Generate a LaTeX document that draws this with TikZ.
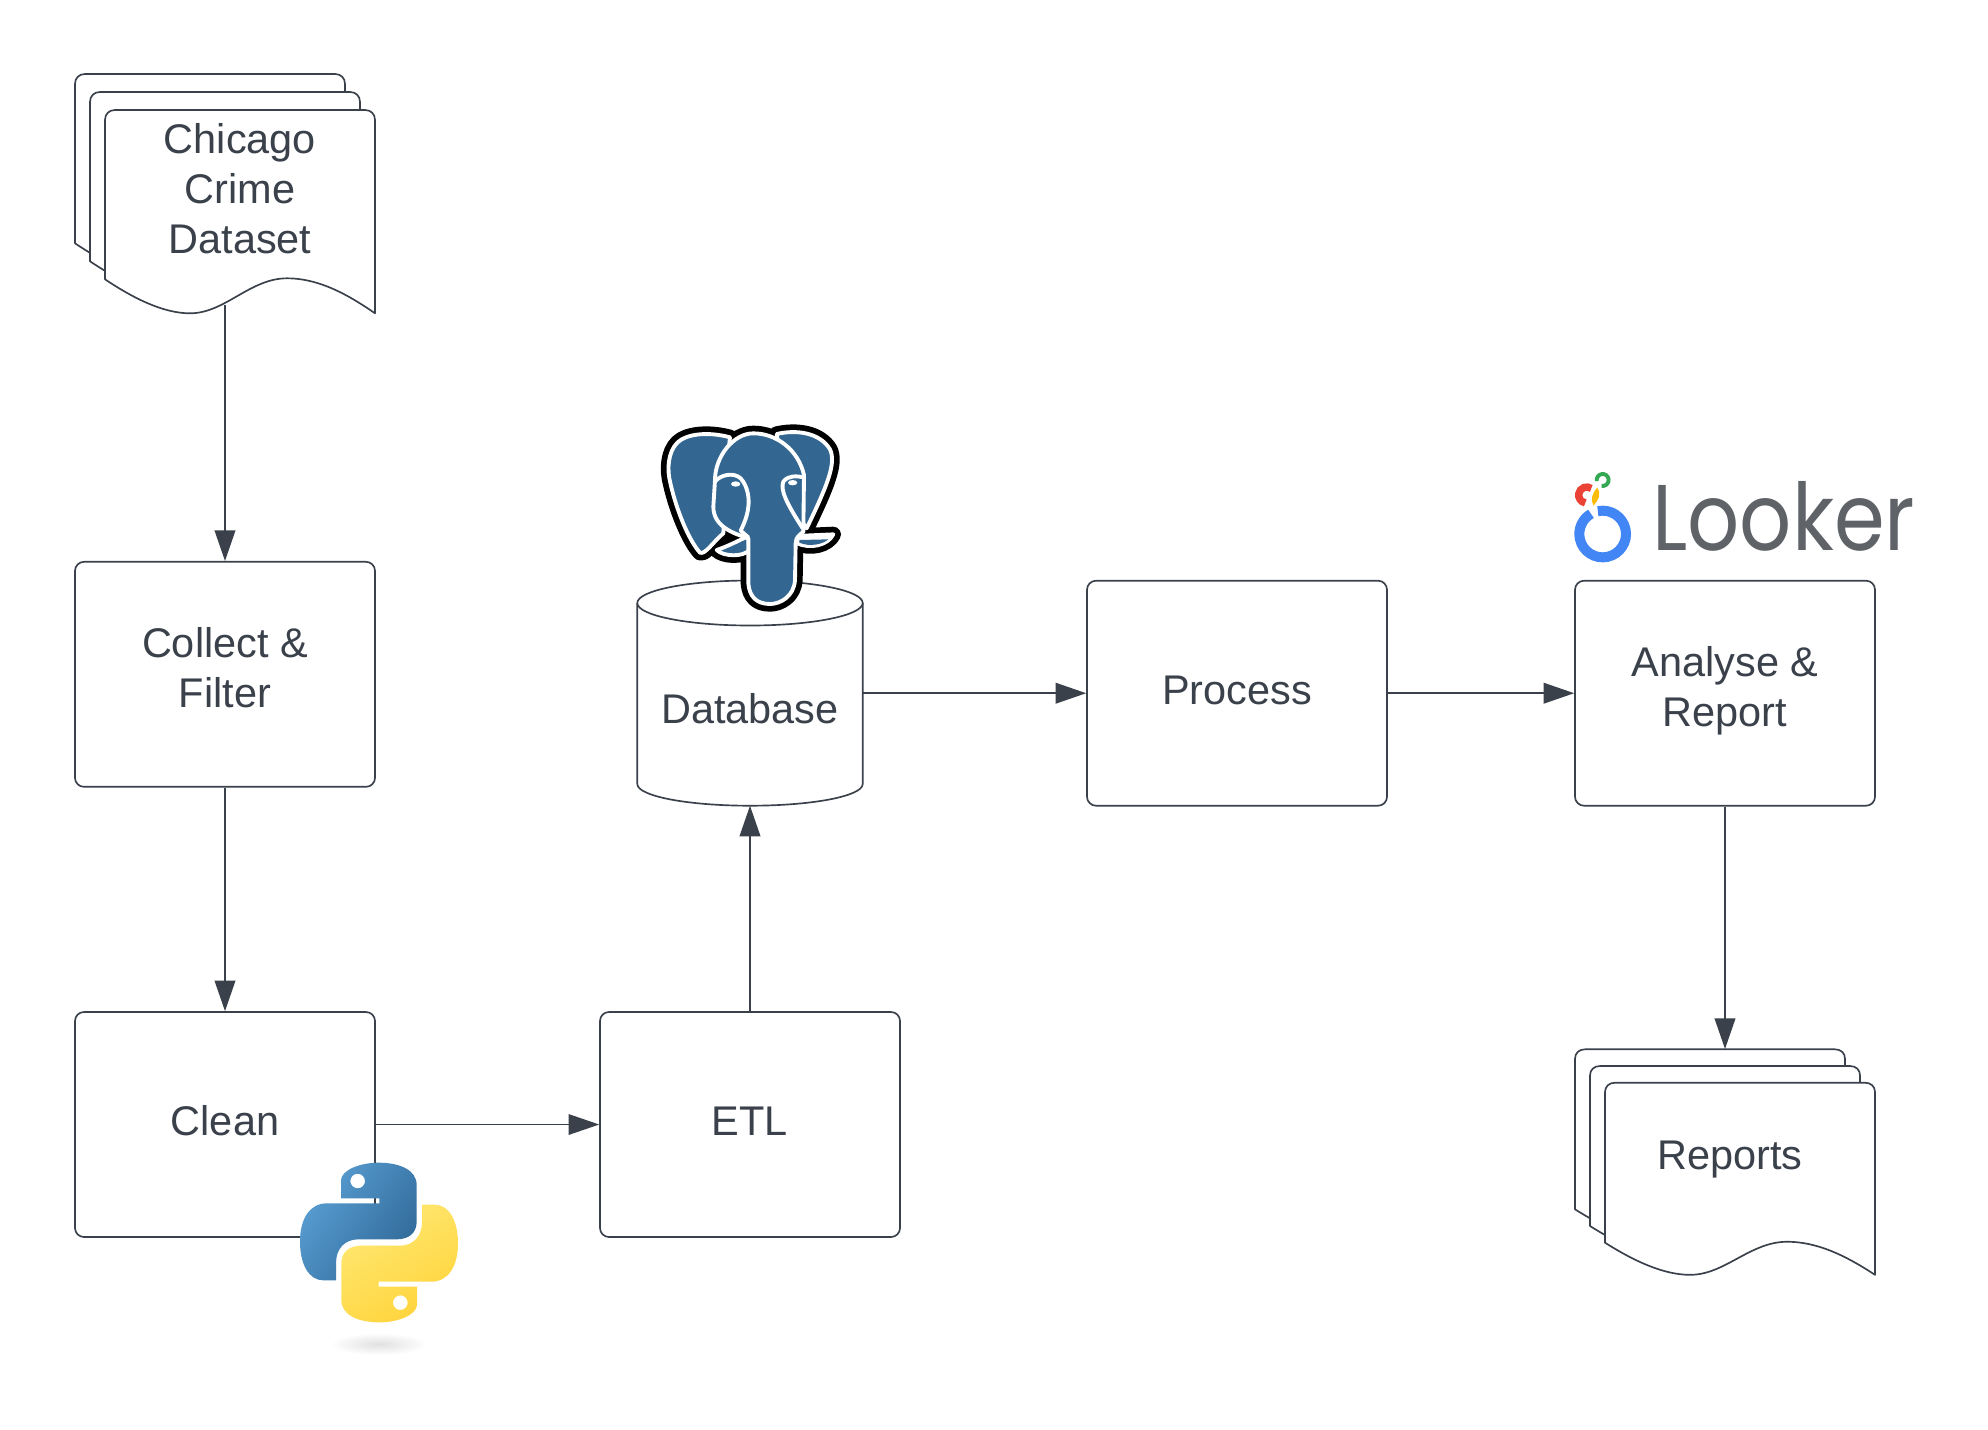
\documentclass[tikz,border=0pt]{standalone}
\usepackage{fontspec}
\setmainfont{Liberation Sans}
\newfontfamily\lookerfont{Poppins}
\usetikzlibrary{arrows.meta}
\definecolor{ink}{HTML}{3A414B}
\definecolor{pgblue}{HTML}{336791}
\definecolor{lookgrey}{HTML}{5F6368}
\tikzset{
  boxnode/.style={draw=ink,line width=1.25pt,rounded corners=6.75pt,fill=white,minimum width=225pt,minimum height=168.75pt,inner sep=0pt},
  ghost/.style={inner sep=0pt,outer sep=0pt},
  lbl/.style={text=ink,font=\fontsize{31.1}{37.5}\selectfont,align=center,inner sep=0pt,anchor=base},
  flow/.style={draw=ink,line width=1.4pt,-{Triangle[length=23pt,width=15.5pt]}},
  thinflow/.style={flow,line width=1pt},
  sheetline/.style={draw=ink,line width=1.25pt,fill=white,line join=round},
  blackout/.style={fill=black,draw=black,line width=11.5pt,line join=round},
  whiteline/.style={draw=white,line width=2.9pt,line join=round,line cap=round},
  pgpart/.style={fill=pgblue,whiteline},
}
% one sheet of a document stack: x, y of its top left corner and vertical factor
\newcommand\docsheet[3]{%
  \begin{scope}[shift={(#1,#2)},yscale=#3]
  \path[sheetline] (0,169.3) -- (0,10) .. controls (0,4) and (4,0) .. (10,0) -- (260,0) .. controls (266,0) and (270,4) .. (270,10)
    -- (270,203.3) .. controls (245,186) and (215,168.3) .. (182,168.3)
    .. controls (145,168.3) and (120,203.3) .. (85,203.3)
    .. controls (58,203.3) and (28,188) .. (0,169.3) -- cycle;
  \end{scope}}
\newcommand\pgear{(330,112) .. controls (280,98) and (220,98) .. (185,118) .. controls (150,138) and (140,190) .. (148,235) .. controls (165,320) and (205,420) .. (240,458) .. controls (255,465) and (280,425) .. (310,400) -- (320,200) -- cycle}
\newcommand\pgearr{(470,102) .. controls (530,88) and (600,98) .. (630,148) .. controls (650,190) and (620,260) .. (560,385) -- (500,300) -- cycle}
\newcommand\pghead{(285,240) .. controls (285,170) and (340,100) .. (400,100) .. controls (470,100) and (535,150) .. (552,225) -- (550,395) .. controls (540,405) and (527,410) .. (527,430) -- (525,540) .. controls (522,590) and (480,612) .. (450,612) .. controls (410,612) and (388,590) .. (385,550) -- (385,415) .. controls (340,400) and (280,380) .. (280,320) -- cycle}
\newcommand\pgtuskl{(385,408) .. controls (350,425) and (320,440) .. (290,450) .. controls (310,470) and (370,472) .. (388,450) -- cycle}
\newcommand\pgtuskr{(528,408) -- (640,403) .. controls (625,435) and (570,450) .. (528,428) -- cycle}
\begin{document}
\begin{tikzpicture}[x=0.75pt,y=-0.75pt]
\useasboundingbox[fill=white] (0,0) rectangle (1988,1429);

% invisible frames of the non-rectangular stacks
\node[ghost,minimum width=225pt,minimum height=173.25pt] (docs) at (225,189.5) {};
\node[ghost,minimum width=225pt,minimum height=169.5pt] (reports) at (1725,1162) {};
\node[ghost,minimum width=169pt,minimum height=168.75pt] (db) at (750,693.2) {};

% boxes
\node[boxnode] (collect) at (225,674.3) {};
\node[boxnode] (clean) at (225,1124.5) {};
\node[boxnode] (etl) at (750,1124.5) {};
\node[boxnode] (process) at (1237,693.2) {};
\node[boxnode] (analyse) at (1725,693.2) {};

% document stacks
\docsheet{75}{74}{1}
\docsheet{90}{92}{1}
\docsheet{105}{110}{1}
\docsheet{1575}{1049.3}{0.945}
\docsheet{1590}{1066}{0.945}
\docsheet{1605}{1082.7}{0.945}

% database
\path[sheetline] (637.3,603) -- (637.3,784) .. controls (637.3,796) and (687,805.7) .. (750,805.7) .. controls (813,805.7) and (862.7,796) .. (862.7,784) -- (862.7,603);
\path[sheetline] (750,603) ellipse [x radius=112.7,y radius=22.5];

% connectors
\draw[flow] (docs.south) -- (collect.north);
\draw[flow] (collect.south) -- (clean.north);
\draw[thinflow] (clean.east) -- (etl.west);
\draw[flow] (etl.north) -- (db.south);
\draw[flow] (db.east) -- (process.west);
\draw[flow] (process.east) -- (analyse.west);
\draw[flow] (analyse.south) -- (reports.north);

% labels
\node[lbl] (tdocs) at (240,253) {Chicago\\Crime\\Dataset};
\node[lbl] (tcollect) at (225,707.3) {Collect \&\\Filter};
\node[lbl] (tclean) at (225,1135.5) {Clean};
\node[lbl] (tetl) at (750,1135.5) {ETL};
\node[lbl] (tdb) at (750,723.5) {Database};
\node[lbl] (tprocess) at (1237,704) {Process};
\node[lbl] (tanalyse) at (1725,726) {Analyse \&\\Report};
\node[lbl] (treports) at (1730,1169.5) {Reports};

% PostgreSQL elephant
\begin{scope}[shift={(620,400)},scale=1/3]
  \path[blackout] \pgear;
  \path[blackout] \pgearr;
  \path[blackout] \pghead;
  \path[blackout] \pgtuskl;
  \path[blackout] \pgtuskr;
  \path[pgpart] \pgear;
  \path[pgpart] \pgearr;
  \path[pgpart] \pgtuskl;
  \path[fill=white,whiteline] \pgtuskr;
  \path[fill=pgblue] (538,420) -- (625,418) .. controls (610,432) and (570,442) .. (538,428) -- cycle;
  \path[pgpart] \pghead;
  \path[whiteline] (285,245) .. controls (300,225) and (340,215) .. (362,235) .. controls (385,260) and (388,300) .. (385,320) .. controls (382,350) and (370,375) .. (362,392) -- (385,412);
  \path[whiteline] (552,232) .. controls (530,228) and (505,225) .. (490,245) .. controls (480,270) and (500,310) .. (548,385);
  \path[fill=white] (347,252) ellipse [x radius=14,y radius=8];
  \path[fill=white] (518,248) ellipse [x radius=14,y radius=8];
\end{scope}

% Python logo
\begin{scope}[shift={(280,1140)},scale=1/3]
  \shade[inner color=black!12,outer color=white] (297,612) ellipse [x radius=145,y radius=33];
  \path[even odd rule,left color={rgb,255:red,90;green,159;blue,212},right color={rgb,255:red,48;green,105;blue,152},shading angle=55]
    (183,175) -- (183,120) .. controls (185,90) and (240,68) .. (295,68) .. controls (360,68) and (410,90) .. (410,135)
    -- (410,245) .. controls (410,280) and (385,298) .. (350,298) -- (235,298) .. controls (195,298) and (168,325) .. (168,370)
    -- (168,421) -- (130,421) .. controls (85,421) and (60,370) .. (60,305) .. controls (60,235) and (90,190) .. (140,190)
    -- (298,190) -- (298,175) -- cycle
    (255,123) arc (0:360:22);
  \path[even odd rule,left color={rgb,255:red,255;green,232;blue,115},right color={rgb,255:red,255;green,212;blue,59},shading angle=30]
    (411,440) -- (411,495) .. controls (409,525) and (354,547) .. (299,547) .. controls (234,547) and (184,525) .. (184,480)
    -- (184,370) .. controls (184,335) and (209,317) .. (244,317) -- (359,317) .. controls (399,317) and (426,290) .. (426,245)
    -- (426,194) -- (464,194) .. controls (509,194) and (534,245) .. (534,310) .. controls (534,380) and (504,425) .. (454,425)
    -- (296,425) -- (296,440) -- cycle
    (383,488) arc (0:360:22);
\end{scope}

% Looker logo
\begin{scope}[shift={(1550,450)},scale=1/3]
  \draw[draw={rgb,255:red,66;green,133;blue,244},line width=7.5pt] (158,252) ++(258:70) arc (258:600:70);
  \draw[draw={rgb,255:red,234;green,67;blue,53},line width=5.5pt] (110,135) ++(100:24) arc (100:305:24);
  \fill[fill={rgb,255:red,251;green,188;blue,4}] (142,113) .. controls (155,135) and (145,150) .. (130,167) .. controls (122,150) and (125,130) .. (142,113) -- cycle;
  \draw[draw={rgb,255:red,52;green,168;blue,83},line width=2.9pt] (158,90) ++(170:18) arc (170:460:18);
\end{scope}
\node[text=lookgrey,font=\lookerfont\fontsize{70}{70}\selectfont,anchor=base west,inner sep=0pt] (looker) at (1652,550.7) {\scalebox{0.875}[1]{Looker}};
\end{tikzpicture}
\end{document}
